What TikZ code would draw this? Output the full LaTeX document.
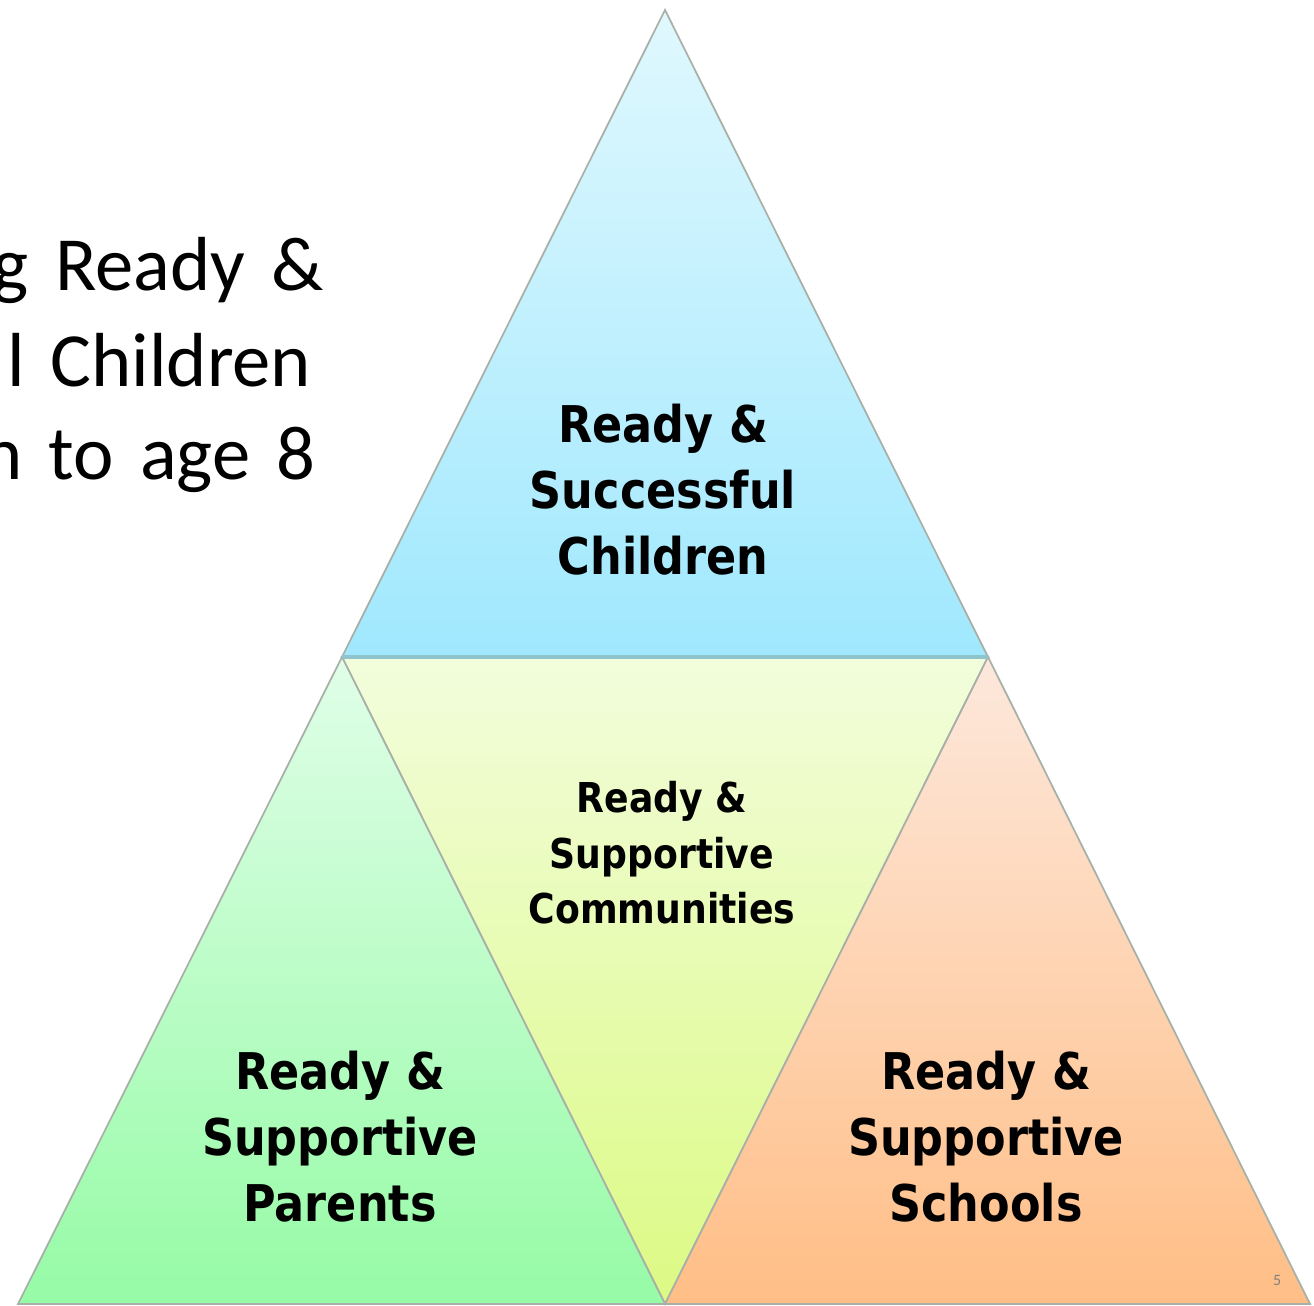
\documentclass[tikz,border=0pt]{standalone}
\usepackage{fontspec}
\setmainfont[WordSpace=1.5]{Carlito}
\newfontfamily\tahoma[FakeStretch=0.88]{DejaVu Sans}
\usetikzlibrary{calc}

\definecolor{kidtop}{HTML}{E0F8FE}
\definecolor{kidbot}{HTML}{A0E8FE}
\definecolor{comtop}{HTML}{F2FDDC}
\definecolor{combot}{HTML}{DCFA84}
\definecolor{partop}{HTML}{E0FEE8}
\definecolor{parbot}{HTML}{96FBA6}
\definecolor{schtop}{HTML}{FDE8DC}
\definecolor{schbot}{HTML}{FFBE86}
\definecolor{edge}{HTML}{A8B0A8}
\definecolor{kidline}{HTML}{90C4CC}

\tikzset{
  tri/.style={draw=edge, line width=0.5pt},
  bigtxt/.style={align=center, font=\tahoma\bfseries\fontsize{14.4}{18.8}\selectfont, inner sep=0pt},
  smalltxt/.style={align=center, font=\tahoma\bfseries\fontsize{11.7}{15.8}\selectfont, inner sep=0pt},
  sidetxt/.style={anchor=base east, font=\fontsize{21.8}{26}\selectfont, inner sep=0pt}
}

\begin{document}
\begin{tikzpicture}
\useasboundingbox (0,0) rectangle (13.14,13.06);
\clip (0,0) rectangle (13.14,13.06);
\fill[white] (0,0) rectangle (13.14,13.06);
% corners of the pyramid
\coordinate (apex) at (6.65,12.96);
\coordinate (midL) at (3.42,6.49);
\coordinate (midR) at (9.88,6.49);
\coordinate (botL) at (0.18,0.02);
\coordinate (botM) at (6.65,0.02);
\coordinate (botR) at (13.10,0.02);
% four triangles
\shadedraw[tri, top color=kidtop, bottom color=kidbot] (apex) -- (midR) -- (midL) -- cycle;
\shadedraw[tri, top color=comtop, bottom color=combot] (midL) -- (midR) -- (botM) -- cycle;
\shadedraw[tri, top color=partop, bottom color=parbot] (midL) -- (botM) -- (botL) -- cycle;
\shadedraw[tri, top color=schtop, bottom color=schbot] (midR) -- (botR) -- (botM) -- cycle;
\draw[draw=kidline, line width=0.9pt] (midL) -- (midR);
% labels
\node[bigtxt] (kids) at (6.63,8.16) {Ready \&\\Successful\\Children};
\node[smalltxt] (comm) at (6.62,4.53) {Ready \&\\Supportive\\Communities};
\node[bigtxt] (pars) at (3.40,1.69) {Ready \&\\Supportive\\Parents};
\node[bigtxt] (schs) at (9.86,1.69) {Ready \&\\Supportive\\Schools};
% title, cut at the left edge
\node[sidetxt] (ttlA) at (3.24,10.15) {g Ready \&};
\node[sidetxt] (ttlB) at (3.12,9.19) {l Children};
\node[sidetxt] (ttlC) at (3.16,8.26) {h to age 8};
\node[font=\fontsize{4.5}{5}\selectfont, text=black!50, inner sep=0pt] (pgno) at (12.77,0.26) {5};
\end{tikzpicture}
\end{document}
